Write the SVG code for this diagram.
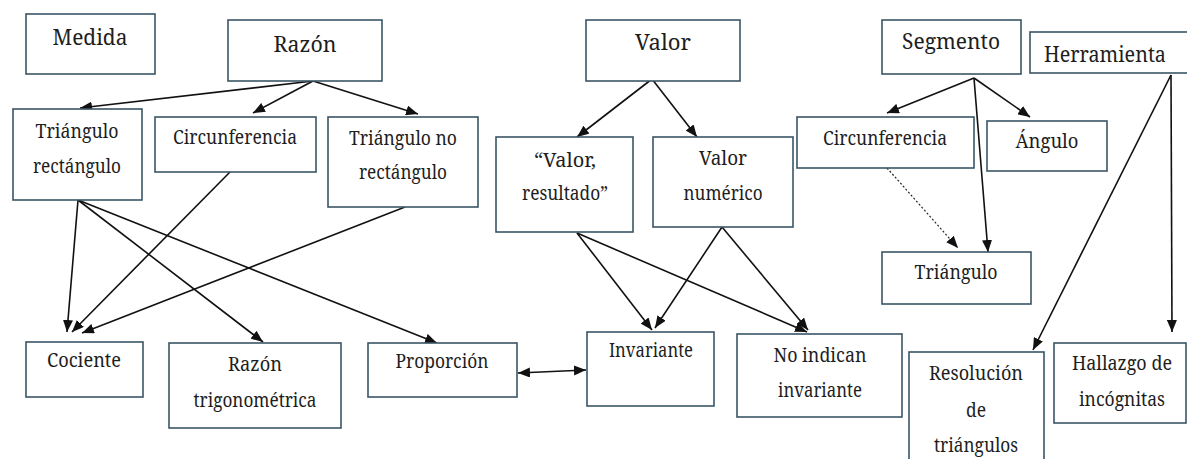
<svg xmlns="http://www.w3.org/2000/svg" width="1187" height="459" viewBox="0 0 1187 459">
<style>
.box{fill:#fff;stroke:#3b5566;stroke-width:1.6}
.t{font-family:'Noto Serif','DejaVu Serif',serif;font-size:19.5px;fill:#1e1e1e;text-anchor:middle}
.big{font-size:22.5px}
.c{stroke:#111;stroke-width:1.6;fill:none}
.dot{stroke:#222;stroke-width:1.2;stroke-dasharray:2 2;fill:none}
</style>
<defs>
<marker id="arr" viewBox="0 0 12 10" refX="12" refY="5" markerWidth="12" markerHeight="10" markerUnits="userSpaceOnUse" orient="auto-start-reverse"><path d="M0,0 L12,5 L0,10 z" fill="#111"/></marker>
</defs>
<rect width="1187" height="459" fill="#fff"/>
<g id="connectors">
<line class="c" x1="313" y1="81" x2="80" y2="108" marker-end="url(#arr)"/>
<line class="c" x1="313" y1="81" x2="253" y2="113" marker-end="url(#arr)"/>
<line class="c" x1="313" y1="81" x2="418" y2="114" marker-end="url(#arr)"/>
<line class="c" x1="78" y1="200" x2="67" y2="332" marker-end="url(#arr)"/>
<line class="c" x1="78" y1="200" x2="263" y2="342" marker-end="url(#arr)"/>
<line class="c" x1="78" y1="200" x2="437" y2="343" marker-end="url(#arr)"/>
<line class="c" x1="230" y1="172" x2="72" y2="332" marker-end="url(#arr)"/>
<line class="c" x1="405" y1="207" x2="82" y2="333" marker-end="url(#arr)"/>
<line class="c" x1="652" y1="79" x2="577" y2="137" marker-end="url(#arr)"/>
<line class="c" x1="652" y1="79" x2="697" y2="137" marker-end="url(#arr)"/>
<line class="c" x1="577" y1="233" x2="652" y2="330" marker-end="url(#arr)"/>
<line class="c" x1="577" y1="233" x2="807" y2="332" marker-end="url(#arr)"/>
<line class="c" x1="722" y1="227" x2="655" y2="328" marker-end="url(#arr)"/>
<line class="c" x1="722" y1="227" x2="808" y2="330" marker-end="url(#arr)"/>
<line class="c" x1="518" y1="373" x2="586" y2="370" marker-start="url(#arr)" marker-end="url(#arr)"/>
<line class="c" x1="974" y1="78" x2="887" y2="113" marker-end="url(#arr)"/>
<line class="c" x1="974" y1="78" x2="1030" y2="117" marker-end="url(#arr)"/>
<line class="c" x1="974" y1="78" x2="988" y2="252" marker-end="url(#arr)"/>
<line class="dot" x1="887" y1="168" x2="958" y2="248" marker-end="url(#arr)"/>
<line class="c" x1="1171" y1="75" x2="1033" y2="350" marker-end="url(#arr)"/>
<line class="c" x1="1171" y1="75" x2="1172" y2="332" marker-end="url(#arr)"/>
</g>
<g id="medida"><rect class="box" x="26" y="14" width="129" height="60"/><text class="t big" x="90" y="45" textLength="75" lengthAdjust="spacingAndGlyphs">Medida</text></g>
<g id="razon"><rect class="box" x="228" y="20" width="154" height="61"/><text class="t big" x="305" y="52" textLength="63" lengthAdjust="spacingAndGlyphs">Razón</text></g>
<g id="valor"><rect class="box" x="586" y="20" width="154" height="61"/><text class="t big" x="663" y="50" textLength="56" lengthAdjust="spacingAndGlyphs">Valor</text></g>
<g id="segmento"><rect class="box" x="882" y="20" width="139" height="54"/><text class="t big" x="951" y="49" textLength="98" lengthAdjust="spacingAndGlyphs">Segmento</text></g>
<g id="herramienta"><rect class="box" x="1030" y="32" width="162" height="41"/><text class="t big" x="1105" y="62" textLength="122" lengthAdjust="spacingAndGlyphs">Herramienta</text></g>
<g id="triangulo-rectangulo"><rect class="box" x="13" y="109" width="129" height="91"/><text class="t" x="77" y="138" textLength="83" lengthAdjust="spacingAndGlyphs">Triángulo</text><text class="t" x="77" y="173" textLength="88" lengthAdjust="spacingAndGlyphs">rectángulo</text></g>
<g id="circunferencia1"><rect class="box" x="155" y="117" width="161" height="55"/><text class="t" x="235" y="144" textLength="124" lengthAdjust="spacingAndGlyphs">Circunferencia</text></g>
<g id="triangulo-no-rectangulo"><rect class="box" x="328" y="117" width="150" height="90"/><text class="t" x="403" y="145" textLength="108" lengthAdjust="spacingAndGlyphs">Triángulo no</text><text class="t" x="403" y="179" textLength="88" lengthAdjust="spacingAndGlyphs">rectángulo</text></g>
<g id="valor-resultado"><rect class="box" x="496" y="137" width="137" height="95"/><text class="t" x="565" y="167" textLength="62" lengthAdjust="spacingAndGlyphs">“Valor,</text><text class="t" x="565" y="200" textLength="86" lengthAdjust="spacingAndGlyphs">resultado”</text></g>
<g id="valor-numerico"><rect class="box" x="653" y="137" width="140" height="90"/><text class="t" x="723" y="165" textLength="48" lengthAdjust="spacingAndGlyphs">Valor</text><text class="t" x="723" y="200" textLength="79" lengthAdjust="spacingAndGlyphs">numérico</text></g>
<g id="circunferencia2"><rect class="box" x="797" y="117" width="177" height="51"/><text class="t" x="885" y="145" textLength="124" lengthAdjust="spacingAndGlyphs">Circunferencia</text></g>
<g id="angulo"><rect class="box" x="987" y="121" width="120" height="50"/><text class="t" x="1047" y="148" textLength="63" lengthAdjust="spacingAndGlyphs">Ángulo</text></g>
<g id="triangulo"><rect class="box" x="882" y="252" width="149" height="52"/><text class="t" x="956" y="279" textLength="83" lengthAdjust="spacingAndGlyphs">Triángulo</text></g>
<g id="cociente"><rect class="box" x="26" y="342" width="117" height="55"/><text class="t" x="84" y="367" textLength="74" lengthAdjust="spacingAndGlyphs">Cociente</text></g>
<g id="razon-trigonometrica"><rect class="box" x="169" y="343" width="172" height="85"/><text class="t" x="255" y="371" textLength="54" lengthAdjust="spacingAndGlyphs">Razón</text><text class="t" x="255" y="407" textLength="123" lengthAdjust="spacingAndGlyphs">trigonométrica</text></g>
<g id="proporcion"><rect class="box" x="368" y="343" width="149" height="54"/><text class="t" x="442" y="368" textLength="93" lengthAdjust="spacingAndGlyphs">Proporción</text></g>
<g id="invariante"><rect class="box" x="587" y="332" width="127" height="74"/><text class="t" x="651" y="357" textLength="84" lengthAdjust="spacingAndGlyphs">Invariante</text></g>
<g id="no-indican-invariante"><rect class="box" x="737" y="334" width="165" height="83"/><text class="t" x="820" y="362" textLength="93" lengthAdjust="spacingAndGlyphs">No indican</text><text class="t" x="820" y="397" textLength="84" lengthAdjust="spacingAndGlyphs">invariante</text></g>
<g id="resolucion"><rect class="box" x="909" y="352" width="135" height="115"/><text class="t" x="976" y="380" textLength="94" lengthAdjust="spacingAndGlyphs">Resolución</text><text class="t" x="976" y="417" textLength="20" lengthAdjust="spacingAndGlyphs">de</text><text class="t" x="976" y="452" textLength="84" lengthAdjust="spacingAndGlyphs">triángulos</text></g>
<g id="hallazgo"><rect class="box" x="1054" y="343" width="132" height="80"/><text class="t" x="1122" y="370" textLength="100" lengthAdjust="spacingAndGlyphs">Hallazgo de</text><text class="t" x="1122" y="406" textLength="86" lengthAdjust="spacingAndGlyphs">incógnitas</text></g>
</svg>
